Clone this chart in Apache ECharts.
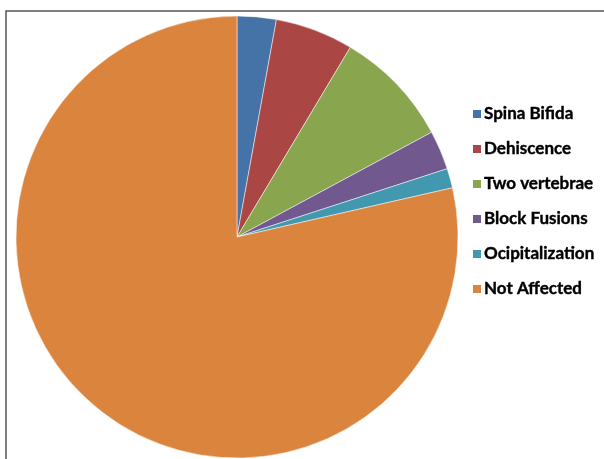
<!DOCTYPE html>
<html>
<head>
<meta charset="utf-8">
<script src="https://cdn.jsdelivr.net/npm/echarts@6/dist/echarts.min.js"></script>
<style>
  html, body { margin: 0; padding: 0; background: #fff; }
  #main { width: 604px; height: 459px; }
</style>
</head>
<body>
<div id="main"></div>
<script>
// categories and counts
var categories = ['Spina Bifida', 'Dehiscence', 'Two vertebrae', 'Block Fusions', 'Ocipitalization', 'Not Affected'];
var counts = [2, 4, 6, 2, 1, 55];
var colors = ['#4572A7', '#AA4643', '#89A54E', '#71588F', '#4198AF', '#DB843D'];

var myChart = echarts.init(document.getElementById('main'));

var pieData = [];
for (var i = 0; i < categories.length; i++) {
    pieData.push({ name: categories[i], value: counts[i] });
}

var option = {
    animation: false,
    color: colors,
    graphic: [
        {
            type: 'rect',
            shape: { x: 6, y: 11, width: 700, height: 600 },
            style: { fill: 'none', stroke: '#555', lineWidth: 1.5 },
            silent: true
        }
    ],
    legend: {
        orient: 'vertical',
        left: 466,
        top: 100,
        icon: 'rect',
        itemWidth: 10,
        itemHeight: 10,
        itemGap: 17,
        textStyle: {
            fontFamily: 'Lato',
            fontWeight: 'bold',
            fontSize: 17,
            lineHeight: 18,
            color: '#000',
            textBorderColor: '#000',
            textBorderWidth: 0.4,
            padding: [0, 0, 0, -3]
        },
        data: categories
    },
    series: [
        {
            name: 'Vertebrae',
            type: 'pie',
            center: [237, 237],
            radius: 221,
            startAngle: 90,
            clockwise: true,
            label: { show: false },
            labelLine: { show: false },
            itemStyle: { borderColor: '#fff', borderWidth: 0.5 },
            emphasis: { disabled: true },
            data: pieData
        }
    ]
};

myChart.setOption(option);
</script>
</body>
</html>
